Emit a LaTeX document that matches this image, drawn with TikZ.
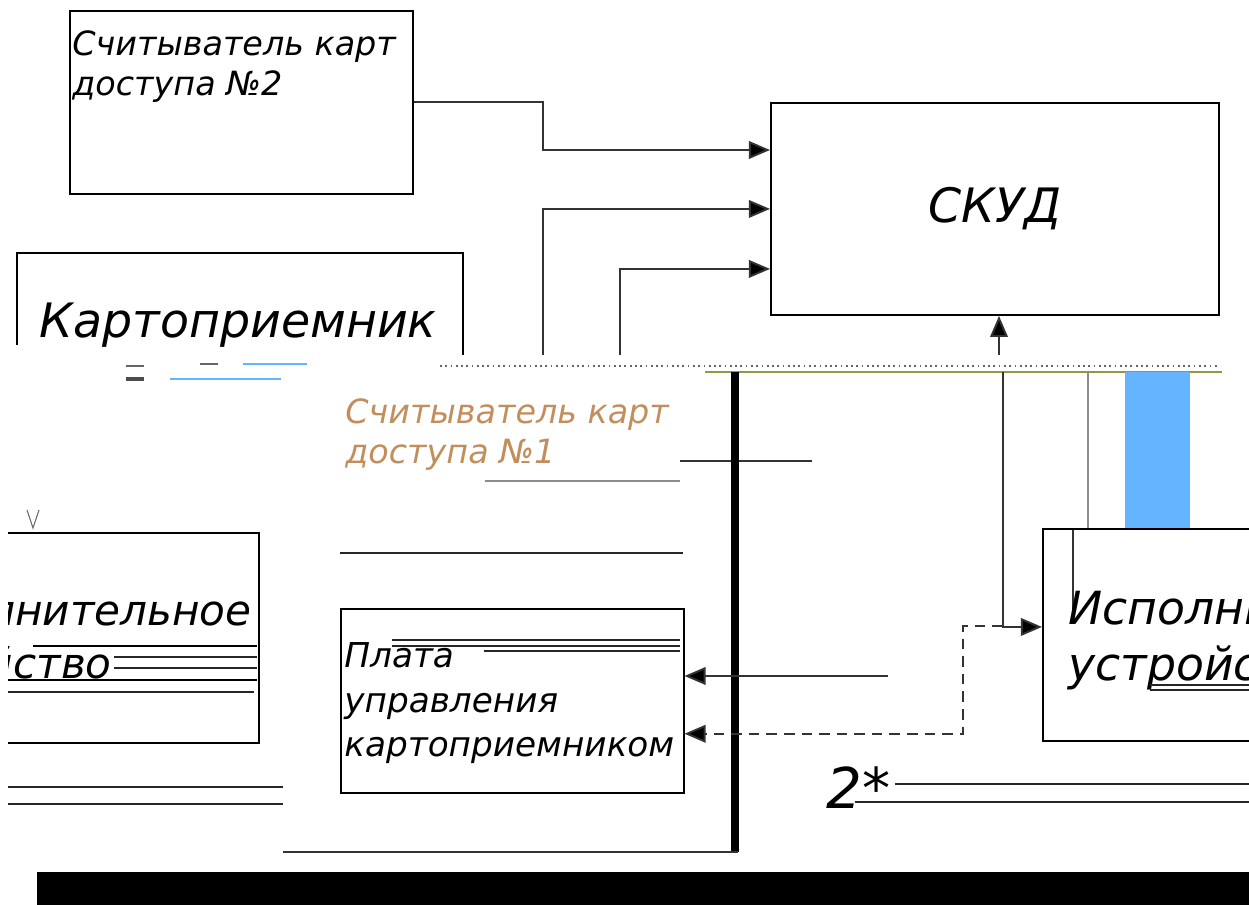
\documentclass[tikz,border=0pt]{standalone}
\usepackage{fontspec}
\newfontfamily\dejavu{DejaVu Sans}
\usetikzlibrary{arrows.meta,positioning}
\definecolor{glitchblue}{RGB}{100,180,255}
\definecolor{glitcholive}{RGB}{150,150,70}
\definecolor{glitchorange}{RGB}{205,125,45}
\tikzset{
  box/.style={draw, line width=1.1pt, inner sep=0pt, anchor=north west},
  lbl/.style={font=\dejavu\itshape\fontsize{19}{23}\selectfont, inner sep=0pt, align=left},
  big/.style={font=\dejavu\itshape\fontsize{27}{32}\selectfont, inner sep=0pt},
  mid/.style={font=\dejavu\itshape\fontsize{24}{28}\selectfont, inner sep=0pt},
  link/.style={line width=1.1pt, draw=black!80},
  tip/.style={-{Triangle[length=12pt,width=10pt,fill=black]}},
  rule/.style={line width=0.8pt, draw=black!85},
}
\begin{document}
\begin{tikzpicture}[x=0.02cm, y=-0.02cm]
\useasboundingbox (0,0) rectangle (1249,905);

% верхние блоки
\node[box, minimum width=6.86cm, minimum height=3.66cm] (reader2) at (69,10) {};
\node[lbl, anchor=north west] (reader2txt) at (72,30) {Считыватель карт\\доступа №2};
\node[box, minimum width=8.96cm, minimum height=4.24cm] (skud) at (770,102) {};
\node[big] (skudtxt) at (skud) {СКУД};

% картоприемник (видна только верхняя часть)
\draw[line width=1.1pt] (17,345) |- (463,253) -- (463,355);
\node[big] (kartotxt) at (238,325) {Картоприемник};

% входы СКУД
\coordinate (j1) at (543,150);
\coordinate (s2) at (543,355);
\coordinate (s3) at (620,355);
\coordinate (u1) at (999,355);
\draw[link, tip] (reader2.east) -| (j1) -- (j1 -| skud.west);
\draw[link, tip] (s2) |- (skud.west);
\draw[link, tip] (s3) |- ([yshift=-1.2cm]skud.west);
\draw[link, tip] (u1) -- (u1 |- skud.south);

% полоса сбоя
\draw[glitcholive, line width=0.8pt] (705,372) -- (1222,372);
\draw[black!60, dotted, line width=1pt] (440,366) -- (1220,366);
\draw[glitchblue, line width=1pt] (243,364) -- (307,364);
\draw[glitchblue, line width=1pt] (170,379) -- (281,379);
\draw[black!60, line width=1.5pt] (126,366) -- (144,366);
\draw[black!70, line width=2pt] (126,379) -- (144,379);
\draw[black!60, line width=1.5pt] (200,364) -- (218,364);
\draw[black!60, line width=0.6pt] (27,510) -- (33,528) -- (39,510);

% считыватель №1 (искажён)
\node[lbl, anchor=north west, text=glitchorange!85!black, opacity=0.75] (reader1txt) at (345,398) {Считыватель карт\\доступа №1};
\draw[black!45, line width=1pt] (485,481) -- (680,481);
\draw[link] (680,461) -- (812,461);

% исполнительное устройство слева
\begin{scope}
  \clip (8,0) rectangle (1249,905);
  \node[box, minimum width=9.16cm, minimum height=4.2cm] (ispL) at (-200,532) {};
  \node[mid, anchor=east] (ispLtxt) at (252,610) {Исполнительное};
  \node[mid, anchor=east] (ispLtxt2) at (112,667) {устройство};
\end{scope}
\draw[line width=1.5pt] (33,646) -- (257,646);
\draw[rule] (114,657) -- (257,657);
\draw[rule] (114,668) -- (257,668);
\draw[line width=1.5pt] (8,680) -- (257,680);
\draw[rule] (8,692) -- (254,692);
\draw[rule] (8,787) -- (283,787);
\draw[rule] (8,804) -- (283,804);

% плата управления
\draw[rule] (340,553) -- (683,553);
\node[box, line width=0.9pt, minimum width=6.86cm, minimum height=3.68cm] (plata) at (340,608) {};
\node[lbl, anchor=north west, font=\dejavu\itshape\fontsize{19.5}{25.5}\selectfont] (platatxt) at (344,642) {Плата\\управления\\картоприемником};
\draw[rule] (392,640) -- (680,640);
\draw[rule] (392,646) -- (680,646);
\draw[rule] (484,651) -- (680,651);

% шина
\draw[line width=5pt] (735,372) -- (735,852);
\draw[link] (283,852) -- (738,852);

% исполнительное устройство справа
\node[box, minimum width=8cm, minimum height=4.24cm] (ispR) at (1042,528) {};
\draw[link] (1073,530) -- (1073,610);
\node[mid, anchor=west, font=\dejavu\itshape\fontsize{26}{30}\selectfont] (ispRtxt) at (1068,608) {Исполнительное};
\node[mid, anchor=west, font=\dejavu\itshape\fontsize{26}{30}\selectfont] (ispRtxt2) at (1068,668) {устройство};
\draw[rule] (1150,685) -- (1249,685);
\draw[rule] (1150,690) -- (1249,690);
\draw[black!45, line width=1.2pt] (1088,372) -- (1088,528);
\fill[glitchblue] (1125,372) rectangle (1190,528);

% связи
\coordinate (v1) at (1003,372);
\coordinate (d1) at (963,626);
\coordinate (p1) at (888,676);
\draw[link, tip] (v1) |- ([yshift=0.16cm]ispR.west);
\draw[link, tip] (p1) -- (p1 -| plata.east);
\draw[link, dashed, dash pattern=on 6pt off 4pt, tip] (v1 |- d1) -- (d1) |- ([yshift=-0.66cm]plata.east);

% 2*
\node[font=\dejavu\itshape\fontsize{32}{36}\selectfont, inner sep=0pt, anchor=west] (star) at (826,788) {2*};
\draw[rule] (895,784) -- (1249,784);
\draw[rule] (855,802) -- (1249,802);

% нижняя полоса
\fill (37,872) rectangle (1249,905);
\end{tikzpicture}
\end{document}
